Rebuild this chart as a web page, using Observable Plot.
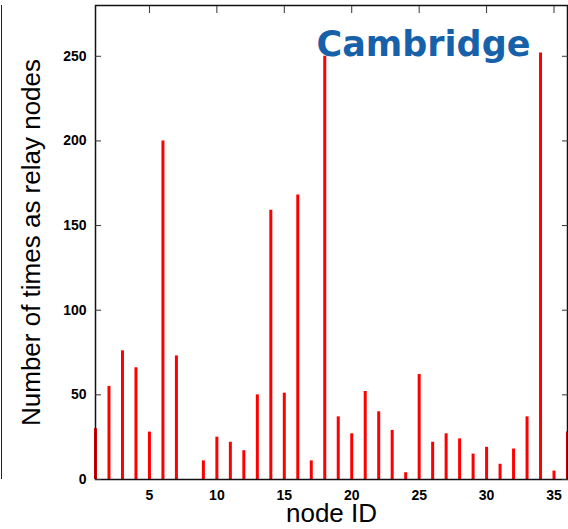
<!DOCTYPE html>
<html>
<head>
<meta charset="utf-8">
<script src="https://cdn.jsdelivr.net/npm/d3@7"></script>
<script src="https://cdn.jsdelivr.net/npm/@observablehq/plot@0.6"></script>
<style>
  html, body { margin: 0; padding: 0; background: #fff; }
  #wrap { position: relative; width: 568px; height: 529px; }
  #edge { position: absolute; left: 1px; top: 5px; width: 0; height: 474px; border-left: 1.5px solid #222; }
</style>
</head>
<body>
<div id="wrap"><div id="edge"></div></div>
<script>
const nodeIds = [1,2,3,4,5,6,7,8,9,10,11,12,13,14,15,16,17,18,19,20,21,22,23,24,25,26,27,28,29,30,31,32,33,34,35,36];
const relayCounts = [30,55,76,66,28,200,73,0,11,25,22,17,50,159,51,168,11,250,37,27,52,40,29,4,62,22,27,24,15,19,9,18,37,252,5,28];
const xTicks = [5,10,15,20,25,30,35];
const yTicks = [0,50,100,150,200,250];
const xDomain = [1,36];
const yDomain = [0,280];
const xLabel = "node ID";
const yLabel = "Number of times as relay nodes";
const titleText = "Cambridge";

const data = nodeIds.map((id, i) => ({id, count: relayCounts[i]}));
const blank = () => "";
const tickFont = "'Liberation Sans', Arial, sans-serif";

const chart = Plot.plot({
  width: 568,
  height: 529,
  marginLeft: 95,
  marginRight: 1,
  marginTop: 5,
  marginBottom: 50,
  style: {fontFamily: tickFont, background: "white", overflow: "visible"},
  x: {domain: xDomain, axis: null},
  y: {domain: yDomain, axis: null},
  marks: [
    Plot.ruleX(data, {x: "id", y1: 0, y2: "count", stroke: "#ff0000", strokeWidth: 3}),
    Plot.frame({stroke: "#111", strokeWidth: 1.5}),
    // inward ticks
    Plot.axisY({anchor: "left", ticks: yTicks, tickSize: 6, dx: 6, tickFormat: blank, label: null, stroke: "#333"}),
    Plot.axisY({anchor: "right", ticks: yTicks, tickSize: 6, dx: -6, tickFormat: blank, label: null, stroke: "#333"}),
    Plot.axisX({anchor: "top", ticks: xTicks, tickSize: 7, dy: 7, tickFormat: blank, label: null, stroke: "#333"}),
    // tick labels
    Plot.axisY({anchor: "left", ticks: yTicks, tickSize: 0, tickPadding: 9, label: null, fontSize: 14, fontWeight: "bold", fill: "#000"}),
    Plot.axisX({anchor: "bottom", ticks: xTicks, tickSize: 0, tickPadding: 11, label: null, fontSize: 14, fontWeight: "bold", fill: "#000"}),
    // axis titles
    Plot.text([yLabel], {frameAnchor: "left", textAnchor: "middle", lineAnchor: "middle", rotate: -90, dx: -64,
      fontSize: 26, fill: "#000", fontFamily: tickFont}),
    Plot.text([xLabel], {frameAnchor: "bottom", textAnchor: "middle", lineAnchor: "middle", dy: 34,
      fontSize: 26, fill: "#000", fontFamily: tickFont}),
    // title
    Plot.text([titleText], {frameAnchor: "top", textAnchor: "middle", lineAnchor: "middle", dx: 92, dy: 39,
      fontSize: 35, fontWeight: "bold", fill: "#1661a9", fontFamily: "'DejaVu Sans', sans-serif"})
  ]
});
document.getElementById("wrap").appendChild(chart);
</script>
</body>
</html>
